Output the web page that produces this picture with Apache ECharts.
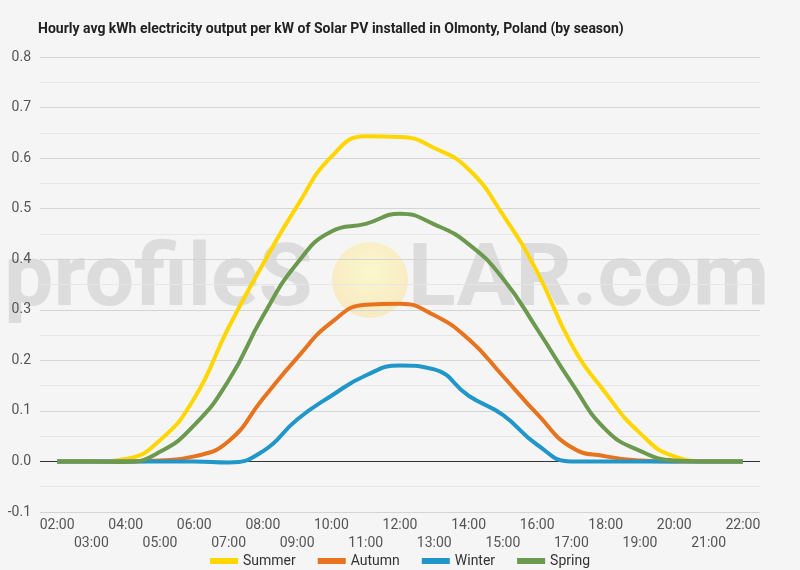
<!DOCTYPE html>
<html>
<head>
<meta charset="utf-8">
<title>Solar PV output Olmonty</title>
<script src="https://cdn.jsdelivr.net/npm/echarts@6/dist/echarts.min.js"></script>
<style>
    html, body { margin: 0; padding: 0; background: #f5f5f5; }
    #main { width: 800px; height: 570px; }
</style>
</head>
<body>
<div id="main"></div>
<script>

/********** data ********** */
var hours = ["02:00","03:00","04:00","05:00","06:00","07:00","08:00","09:00","10:00","11:00","12:00",
             "13:00","14:00","15:00","16:00","17:00","18:00","19:00","20:00","21:00","22:00"];

var summer = [0, 0, 0.005, 0.042, 0.125, 0.265, 0.39, 0.505, 0.603, 0.643, 0.642,
              0.62, 0.578, 0.488, 0.375, 0.232, 0.135, 0.056, 0.01, 0, 0];

var autumn = [0, 0, 0, 0.002, 0.01, 0.04, 0.124, 0.205, 0.275, 0.31, 0.312,
              0.289, 0.242, 0.169, 0.094, 0.028, 0.01, 0.002, 0, 0, 0];

var winter = [0, 0, 0, 0, 0, -0.002, 0.02, 0.083, 0.13, 0.17, 0.19,
              0.182, 0.13, 0.092, 0.033, 0, 0, 0, 0, 0, 0];

var spring = [0, 0, -0.001, 0.019, 0.072, 0.16, 0.287, 0.392, 0.455, 0.47, 0.49,
              0.469, 0.43, 0.362, 0.262, 0.156, 0.063, 0.021, 0.002, 0, 0];

var seasonNames = ["Summer", "Autumn", "Winter", "Spring"];
var seasonColors = ["#ffd600", "#e8731f", "#2196c9", "#6b9a4f"];


/********** chart ********** */
var myChart = echarts.init(document.getElementById("main"));

// zero line dark, the rest light grey
var splitColors = ["#d4d4d4", "#333333", "#d4d4d4", "#d4d4d4", "#d4d4d4",
                   "#d4d4d4", "#d4d4d4", "#d4d4d4", "#d4d4d4", "#d4d4d4"];

function line(name, data, color){
    return {
        name : name,
        type : "line",
        data : data,
        smooth : true,
        showSymbol : false,
        symbol : "none",
        lineStyle : { width : 4, color : color },
        itemStyle : { color : color }
    };
}

var option = {

    backgroundColor : "#f5f5f5",

    textStyle : { fontFamily : "Roboto" },

    title : {
        text : "Hourly avg kWh electricity output per kW of Solar PV installed in Olmonty, Poland (by season)",
        left : 33,
        top : 17,
        textStyle : { fontSize : 14, fontWeight : "bold", color : "#222", fontFamily : "Roboto" }
    },

    grid : { left : 40, right : 40, top : 57, bottom : 58 },

    legend : {
        data : seasonNames,
        top : 549,
        icon : "rect",
        itemWidth : 28,
        itemHeight : 6,
        itemGap : 22,
        textStyle : { fontSize : 14, color : "#333" }
    },

    graphic : [
        {
            type : "text",
            z : -10,
            left : 4,
            top : 239,
            style : {
                text : "profileS",
                fontSize : 88,
                fontWeight : "bold",
                fontFamily : "Roboto",
                fill : "rgba(175,175,175,0.35)"
            }
        },
        {
            type : "circle",
            z : -10,
            shape : { cx : 370, cy : 280, r : 38 },
            style : {
                fill : new echarts.graphic.RadialGradient(0.5, 0.4, 0.7, [
                    { offset : 0, color : "rgba(252,248,200,0.9)" },
                    { offset : 1, color : "rgba(248,228,180,0.8)" }
                ])
            }
        },
        {
            type : "text",
            z : -10,
            left : 408,
            top : 239,
            style : {
                text : "LAR.com",
                fontSize : 88,
                fontWeight : "bold",
                fontFamily : "Roboto",
                fill : "rgba(175,175,175,0.35)"
            }
        }
    ],

    xAxis : {
        type : "category",
        data : hours,
        boundaryGap : true,
        axisLine : { show : false, onZero : false },
        axisTick : { show : false },
        axisLabel : {
            interval : 0,
            fontSize : 14,
            color : "#555",
            margin : 4,
            lineHeight : 18,
            formatter : function(v, i){
                return i % 2 ? "\n" + v : v;
            }
        }
    },

    yAxis : {
        type : "value",
        min : -0.1,
        max : 0.8,
        interval : 0.1,
        axisLine : { show : false },
        axisTick : { show : false },
        axisLabel : {
            fontSize : 14,
            color : "#555",
            margin : 9,
            formatter : function(v){ return v.toFixed(1); }
        },
        splitLine : { lineStyle : { color : splitColors, width : 1 } },
        minorTick : { show : false, splitNumber : 2 },
        minorSplitLine : { show : true, lineStyle : { color : "#e6e6e6", width : 1 } }
    },

    series : [
        line(seasonNames[0], summer, seasonColors[0]),
        line(seasonNames[1], autumn, seasonColors[1]),
        line(seasonNames[2], winter, seasonColors[2]),
        line(seasonNames[3], spring, seasonColors[3])
    ]
};

myChart.setOption(option);

</script>
</body>
</html>
